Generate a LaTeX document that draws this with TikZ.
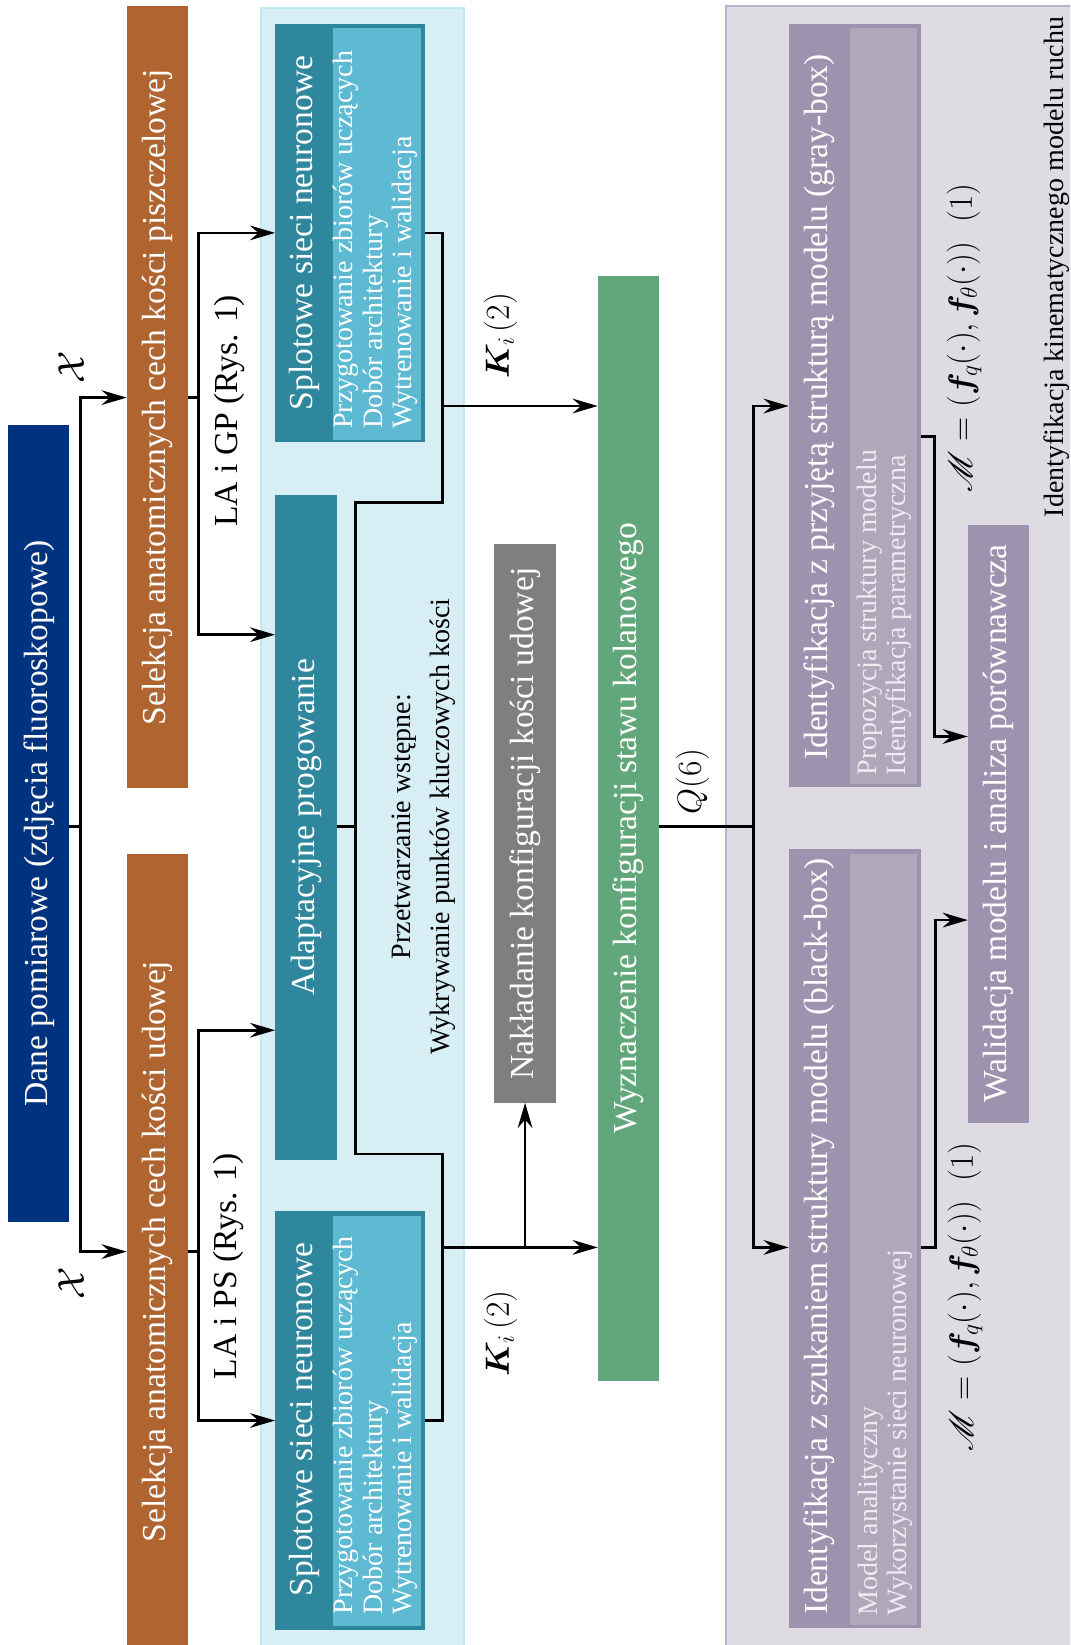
\RequirePackage{fix-cm}
\documentclass[tikz,border=0pt]{standalone}
\usepackage{amsmath,bm}
\IfFileExists{mathrsfs.sty}{\usepackage{mathrsfs}\DeclareFontFamily{U}{rsfs}{\skewchar\font127 }\DeclareFontShape{U}{rsfs}{m}{n}{<-> rsfs10}{}}{\let\mathscr\mathcal}
\usepackage[no-math]{fontspec}
\setmainfont{Liberation Serif}
\usetikzlibrary{arrows.meta}
\newcommand\fmain{\fontsize{32}{38}\selectfont}
\newcommand\fsmall{\fontsize{26.7}{28}\selectfont}
\newcommand\fbig{\fontsize{36}{40}\selectfont}
\definecolor{cDane}{HTML}{00337F}
\definecolor{cOr}{HTML}{B0642F}
\definecolor{cBlueF}{HTML}{D7EEF4}
\definecolor{cBlueB}{HTML}{BDE9F5}
\definecolor{cTeal}{HTML}{2E879C}
\definecolor{cTealL}{HTML}{5EB9D2}
\definecolor{cGray}{HTML}{7F7F7F}
\definecolor{cGreen}{HTML}{62A77B}
\definecolor{cPurF}{HTML}{DEDBE3}
\definecolor{cPurB}{HTML}{BAB2CA}
\definecolor{cPur}{HTML}{9D93AE}
\definecolor{cPurL}{HTML}{B0A8BA}
\definecolor{cPurT}{HTML}{EEEBF2}
\tikzset{
  ln/.style={line width=2.6pt, line join=miter},
  ar/.style={ln, -{Stealth[length=24pt,width=14pt,inset=8pt]}},
  blk/.style={rectangle, inner sep=0pt, text=white, font=\fmain},
  inr/.style={rectangle, inner sep=0pt},
  lbl/.style={rotate=90, inner sep=0pt, font=\fmain},
}
\begin{document}
\begin{tikzpicture}[x=1pt,y=1pt]
\useasboundingbox (0,0) rectangle (1020,-1568);
\clip (0,0) rectangle (1020,-1568);
\fill[white] (0,0) rectangle (1020,-1568);
% containers
\node[inr, draw=cBlueB, fill=cBlueF, line width=2pt, minimum width=193pt, minimum height=1572pt] (contA) at (345.5,-794) {};
\node[inr, draw=cPurB, fill=cPurF, line width=2pt, minimum width=338pt, minimum height=1574pt] (contB) at (861,-793) {};
% level coordinates
\coordinate (yM) at (0,-788);
\coordinate (yO1) at (0,-379);
\coordinate (yO2) at (0,-1193);
\coordinate (yS1) at (0,-222);
\coordinate (yS2) at (0,-1354);
\coordinate (yA1) at (0,-605);
\coordinate (yA2) at (0,-982);
\coordinate (yJ1) at (0,-479);
\coordinate (yJ2) at (0,-1100);
\coordinate (yK1) at (0,-387);
\coordinate (yK2) at (0,-1189);
\coordinate (yG) at (0,-416);
\coordinate (yW1) at (0,-702);
\coordinate (yW2) at (0,-877);
\coordinate (cL1) at (77,0);
\coordinate (cL2) at (189,0);
\coordinate (cR1) at (422,0);
\coordinate (cR2) at (339,0);
\coordinate (cN) at (500.5,0);
\coordinate (cQ) at (718,0);
\coordinate (cP1) at (890.5,0);
\coordinate (cP2) at (892,0);
% boxes
\node[blk, fill=cDane, minimum width=58pt, minimum height=760pt] (dane) at (37,-785) {\rotatebox{90}{Dane pomiarowe (zdjęcia fluoroskopowe)}};
\node[blk, fill=cOr, minimum width=58pt, minimum height=745pt] (orA) at (150,-378.5) {\rotatebox{90}{Selekcja anatomicznych cech kości piszczelowej}};
\node[blk, fill=cOr, minimum width=58pt, minimum height=758pt] (orB) at (150,-1193) {\rotatebox{90}{Selekcja anatomicznych cech kości udowej}};
% top CNN
\node[blk, fill=cTeal, minimum width=142.5pt, minimum height=398.5pt] (splA) at (333.75,-222.25) {};
\node[inr, fill=cTealL, minimum width=84pt, minimum height=392.5pt] (splAin) at (359,-222.75) {};
\node[lbl, text=white] (splAt) at (290,-222) {Splotowe sieci neuronowe};
\node[lbl, text=white, font=\fsmall, anchor=west, align=left] (splAl) at (358,-409) {Przygotowanie zbiorów uczących\\Dobór architektury\\Wytrenowanie i walidacja};
% adaptive
\node[blk, fill=cTeal, minimum width=58.5pt, minimum height=634pt] (adapt) at (291.75,-788.5) {\rotatebox{90}{Adaptacyjne progowanie}};
% bottom CNN
\node[blk, fill=cTeal, minimum width=142.5pt, minimum height=399.4pt] (splB) at (333.75,-1354.3) {};
\node[inr, fill=cTealL, minimum width=84pt, minimum height=391.4pt] (splBin) at (359,-1354.3) {};
\node[lbl, text=white] (splBt) at (290,-1353) {Splotowe sieci neuronowe};
\node[lbl, text=white, font=\fsmall, anchor=west, align=left] (splBl) at (358,-1539) {Przygotowanie zbiorów uczących\\Dobór architektury\\Wytrenowanie i walidacja};
\node[lbl, font=\fsmall, align=center] (prep) at (404,-788) {Przetwarzanie wstępne:\\[9pt]Wykrywanie punktów kluczowych kości};
% gray & green
\node[blk, fill=cGray, minimum width=59pt, minimum height=532pt] (gray) at (500.5,-785) {\rotatebox{90}{Nakładanie konfiguracji kości udowej}};
\node[blk, fill=cGreen, minimum width=58pt, minimum height=1053pt] (green) at (599,-789.5) {\rotatebox{90}{Wyznaczenie konfiguracji stawu kolanowego}};
% purple boxes
\node[blk, fill=cPur, minimum width=126pt, minimum height=727pt] (gbox) at (815,-386.5) {};
\node[inr, fill=cPurL, minimum width=64pt, minimum height=720pt] (gboxin) at (842.5,-387) {};
\node[lbl, text=white] (gboxt) at (781,-388) {Identyfikacja z przyjętą strukturą modelu (gray-box)};
\node[lbl, text=cPurT, font=\fsmall, anchor=west, align=left] (gboxl) at (843,-739) {Propozycja struktury modelu\\Identyfikacja parametryczna};
\node[blk, fill=cPur, minimum width=126pt, minimum height=742.4pt] (bbox) at (815,-1180.8) {};
\node[inr, fill=cPurL, minimum width=64pt, minimum height=735.4pt] (bboxin) at (842.5,-1181.3) {};
\node[lbl, text=white] (bboxt) at (781,-1179) {Identyfikacja z szukaniem struktury modelu (black-box)};
\node[lbl, text=cPurT, font=\fsmall, anchor=west, align=left] (bboxl) at (844,-1540) {Model analityczny\\Wykorzystanie sieci neuronowej};
\node[blk, fill=cPur, minimum width=58.5pt, minimum height=570pt] (walid) at (952,-785) {\rotatebox{90}{Walidacja modelu i analiza porównawcza}};
\node[lbl, font=\fsmall] (ident) at (1007,-254.5) {Identyfikacja kinematycznego modelu ruchu};
% labels
\node[lbl, font=\fbig] (x1) at (68,-350) {$\mathcal{X}$};
\node[lbl, font=\fbig] (x2) at (68,-1223) {$\mathcal{X}$};
\node[lbl] (la1) at (218.5,-391.5) {LA i GP (Rys. 1)};
\node[lbl] (la2) at (217.5,-1207) {LA i PS (Rys. 1)};
\node[lbl] (k1) at (477,-320) {$\bm{K}_i\,(2)$};
\node[lbl] (k2) at (477,-1271) {$\bm{K}_i\,(2)$};
\node[lbl] (q6) at (660,-745) {$Q(6)$};
\node[lbl] (m1) at (919,-322) {$\mathscr{M} = (\bm{f}_q(\cdot), \bm{f}_\theta(\cdot))\;\;(1)$};
\node[lbl] (m2) at (920,-1236) {$\mathscr{M} = (\bm{f}_q(\cdot), \bm{f}_\theta(\cdot))\;\;(1)$};
% connectors
\draw[ln] (dane.east |- yM) -- (cL1 |- yM);
\draw[ar] (cL1 |- yM) |- (orA.west |- yO1);
\draw[ar] (cL1 |- yM) |- (orB.west |- yO2);
\draw[ln] (orA.east |- yO1) -- (cL2 |- yO1);
\draw[ar] (cL2 |- yO1) |- (splA.west |- yS1);
\draw[ar] (cL2 |- yO1) |- (adapt.west |- yA1);
\draw[ln] (orB.east |- yO2) -- (cL2 |- yO2);
\draw[ar] (cL2 |- yO2) |- (adapt.west |- yA2);
\draw[ar] (cL2 |- yO2) |- (splB.west |- yS2);
\draw[ln] (splA.east |- yS1) -| (cR1 |- yJ1) -| (cR2 |- yJ2) -| (cR1 |- yS2) -- (splB.east |- yS2);
\draw[ln] (adapt.east |- yM) -- (cR2 |- yM);
\draw[ar] (cR1 |- yK1) -- (green.west |- yK1);
\draw[ar] (cR1 |- yK2) -- (green.west |- yK2);
\draw[ar] (cN |- yK2) -- (gray.south);
\draw[ln] (green.east |- yM) -- (cQ |- yM);
\draw[ar] (cQ |- yM) |- (gbox.west |- yK1);
\draw[ar] (cQ |- yM) |- (bbox.west |- yK2);
\draw[ar] (gbox.east |- yG) -| (cP1 |- yW1) -- (walid.west |- yW1);
\draw[ar] (bbox.east |- yK2) -| (cP2 |- yW2) -- (walid.west |- yW2);
\end{tikzpicture}
\end{document}
